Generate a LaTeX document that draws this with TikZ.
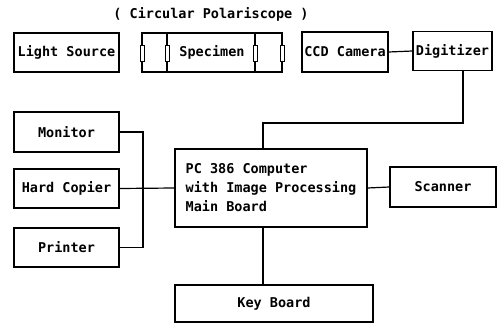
\documentclass[tikz,border=0pt]{standalone}
\usepackage{fontspec}
\setmonofont{DejaVu Sans Mono}
\newfontfamily\boxfont{DejaVu Sans Mono Bold}
\begin{document}
\begin{tikzpicture}[x=1pt,y=1pt,
  blk/.style={draw,line width=1.2pt,rectangle,inner sep=0pt,font=\boxfont\fontsize{13.5}{19}\selectfont},
  wire/.style={line width=1.2pt},
  pol/.style={draw,line width=0.8pt,fill=white}]
\useasboundingbox (0,0) rectangle (500,-326);
\node[font=\boxfont\fontsize{13.5}{19}\selectfont] (title) at (211,-14) {( Circular Polariscope )};
\node[blk,minimum width=105pt,minimum height=39pt] (light) at (66.5,-52.5) {Light Source};
\node[blk,minimum width=140pt,minimum height=39pt] (spec) at (212,-52.5) {Specimen};
\node[blk,minimum width=86pt,minimum height=40pt] (ccd) at (345,-52) {CCD Camera};
\node[blk,minimum width=79pt,minimum height=39pt] (dig) at (452.5,-51) {Digitizer};
\node[blk,minimum width=105pt,minimum height=40pt] (mon) at (66.5,-132) {Monitor};
\node[blk,minimum width=105pt,minimum height=39pt] (hard) at (66.5,-188.5) {Hard Copier};
\node[blk,minimum width=105pt,minimum height=39pt] (prn) at (66.5,-247.5) {Printer};
\node[blk,minimum width=192pt,minimum height=78pt,align=left] (pc) at (271,-188) {PC 386 Computer\\with Image Processing\\Main Board};
\node[blk,minimum width=106pt,minimum height=40pt] (scan) at (443,-187) {Scanner};
\node[blk,minimum width=198pt,minimum height=37pt] (kb) at (274,-303.5) {Key Board};
% specimen inner lines and polarizer plates
\draw[wire] (167,-33) -- (167,-72);
\draw[wire] (255,-33) -- (255,-72);
\foreach \px in {142,167,255,282} {\draw[pol] (\px-2,-45) rectangle (\px+2,-61);}
% connectors
\draw[wire] (ccd.east) -- (dig.west);
\coordinate (bend) at (263,-123);
\draw[wire] ([xshift=10.5pt]dig.south) |- (bend) -- (bend |- pc.north);
\coordinate (bus) at (143,-188);
\draw[wire] (mon.east) -| (bus) |- (prn.east);
\draw[wire] (hard.east) -- (pc.west);
\draw[wire] (pc.east) -- (scan.west);
\draw[wire] (bend |- pc.south) -- (bend |- kb.north);
\end{tikzpicture}
\end{document}
